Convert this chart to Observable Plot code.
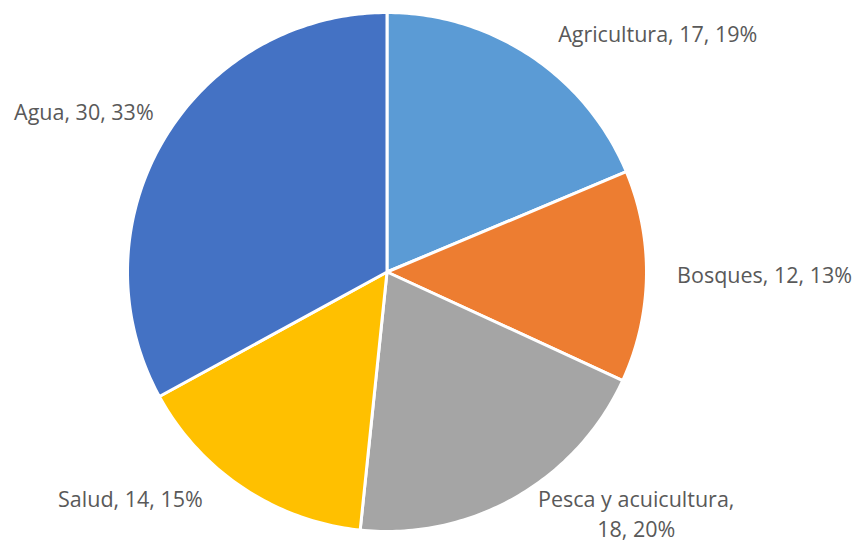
<!DOCTYPE html>
<html>
<head>
<meta charset="utf-8">
<script src="https://cdn.jsdelivr.net/npm/d3@7"></script>
<script src="https://cdn.jsdelivr.net/npm/@observablehq/plot@0.6"></script>
<style>
  html, body { margin: 0; padding: 0; background: #ffffff; }
  #chart svg { display: block; }
</style>
</head>
<body>
<div id="chart"></div>
<script>
// Data
const categories = ["Agricultura", "Bosques", "Pesca y acuicultura", "Salud", "Agua"];
const values = [17, 12, 18, 14, 30];
const colors = ["#5B9BD5", "#ED7D31", "#A5A5A5", "#FFC000", "#4472C4"];
// Label lines (as shown in the chart)
const labelLines = [
  ["Agricultura, 17, 19%"],
  ["Bosques, 12, 13%"],
  ["Pesca y acuicultura,", "18, 20%"],
  ["Salud, 14, 15%"],
  ["Agua, 30, 33%"]
];
// Label placement: [angle clockwise from top (deg), distance in radii]
const labelPlacement = [[48.5, 1.393], [90.2, 1.455], [134.0, 1.335], [228.7, 1.316], [298.0, 1.323]];

const W = 858, H = 543;
const R = 259.5, cx = 386.5, cy = 271.5;

const total = d3.sum(values);
let acc = 0;
const slicePts = [];
categories.forEach((name, i) => {
  const a0 = acc / total * 2 * Math.PI;
  acc += values[i];
  const a1 = acc / total * 2 * Math.PI;
  const n = Math.max(8, Math.ceil((a1 - a0) / (2 * Math.PI) * 400));
  slicePts.push({name, color: colors[i], x: 0, y: 0});
  for (let k = 0; k <= n; k++) {
    const a = a0 + (a1 - a0) * k / n;
    slicePts.push({name, color: colors[i], x: Math.sin(a), y: Math.cos(a)});
  }
  slicePts.push({name, color: colors[i], x: 0, y: 0});
});

const labels = [];
categories.forEach((name, i) => {
  const [deg, r] = labelPlacement[i];
  const a = deg * Math.PI / 180;
  labels.push({text: labelLines[i].join("\n"), x: r * Math.sin(a), y: r * Math.cos(a)});
});

const chart = Plot.plot({
  width: W,
  height: H,
  margin: 0,
  x: {domain: [-cx / R, (W - cx) / R], axis: null},
  y: {domain: [-(H - cy) / R, cy / R], axis: null},
  style: {fontFamily: "'Open Sans', sans-serif", background: "#ffffff"},
  marks: [
    Plot.line(slicePts, {
      x: "x", y: "y", z: "name",
      fill: "color", stroke: "#ffffff", strokeWidth: 3,
      strokeLinejoin: "round", curve: "linear"
    }),
    Plot.text(labels, {
      x: "x", y: "y", text: "text",
      fontSize: 21.5, fill: "#595959", textAnchor: "middle",
      lineAnchor: "middle", lineHeight: 1.38
    })
  ]
});
document.getElementById("chart").appendChild(chart);
</script>
</body>
</html>
